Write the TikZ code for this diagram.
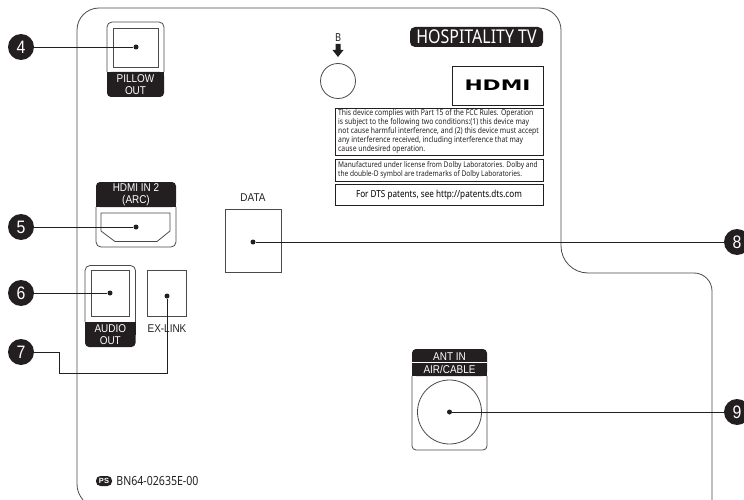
\documentclass[tikz,border=0pt]{standalone}
\usepackage{fontspec}
\usetikzlibrary{positioning}
\setmainfont{Liberation Sans}
\newfontfamily\finefont[FakeStretch=0.84]{Noto Sans}
\newfontfamily\labelfont[FakeStretch=0.88]{Liberation Sans}
\newfontfamily\logofont[FakeStretch=1.5]{DejaVu Sans}
\definecolor{inkdark}{HTML}{231F20}
\definecolor{linegrey}{HTML}{4A4A4A}
\tikzset{
  callout/.style={circle,fill=inkdark,text=white,minimum size=26pt,inner sep=0pt,font=\labelfont\fontsize{18}{18}\selectfont},
  portdot/.style={circle,fill=inkdark,inner sep=0pt,minimum size=5pt},
  leader/.style={draw=inkdark,line width=0.9pt},
  outline/.style={draw=linegrey,line width=0.8pt},
  whitelabel/.style={text=white,align=center,inner sep=0pt,font=\labelfont\fontsize{11.3}{11.8}\selectfont},
  blacklabel/.style={text=inkdark,align=center,inner sep=0pt,font=\labelfont\fontsize{11.3}{11.8}\selectfont},
  noticetext/.style={text=inkdark,align=left,inner sep=0pt,font=\finefont\fontsize{8.1}{9}\selectfont},
  noticebox/.style={draw=inkdark,line width=0.8pt}
}
\begin{document}
\begin{tikzpicture}[x=1pt,y=-1pt]
  \clip (0,0) rectangle (744,500);
  % back panel outline
  \draw[outline] (83,500) .. controls (79,495) and (77,490) .. (77,484);
  \draw[outline,rounded corners=22pt] (77,484) -- (77,8) -- (561,8)
    [rounded corners=27pt] -- (561,273)
    [rounded corners=18pt] -- (712,273) -- (712,500);

  % PILLOW OUT
  \fill[inkdark,rounded corners=4pt] (107,72) rectangle (164,97);
  \fill[inkdark] (107,72) rectangle (164,85);
  \draw[outline,rounded corners=5pt] (107,72) -- (107,22) -- (164,22) -- (164,72);
  \draw[outline] (113,28) rectangle (158,67);
  \node[whitelabel] (pillowlabel) at (135.5,85) {PILLOW\\OUT};

  % HDMI IN 2
  \fill[inkdark,rounded corners=4pt] (96,182) rectangle (176,207);
  \fill[inkdark] (96,195) rectangle (176,207);
  \draw[outline,rounded corners=5pt] (96,207) -- (96,247) -- (176,247) -- (176,207);
  \draw[outline] (101,213) -- (170,213) -- (170,231) -- (157,241.5) -- (115,241.5) -- (101,231) -- cycle;
  \node[whitelabel] (hdmilabel) at (136,195) {HDMI IN 2\\(ARC)};

  % AUDIO OUT, EX-LINK
  \fill[inkdark,rounded corners=4pt] (85,322) rectangle (135.5,347);
  \fill[inkdark] (85,322) rectangle (135.5,335);
  \draw[outline,rounded corners=5pt] (85,322) -- (85,265.5) -- (135.5,265.5) -- (135.5,322);
  \draw[outline] (91,270) rectangle (129.5,316);
  \node[whitelabel] (audiolabel) at (110.3,335) {AUDIO\\OUT};
  \draw[outline] (147.5,270) rectangle (186.5,316);
  \node[blacklabel] (exlinklabel) at (167,329) {EX-LINK};

  % DATA
  \draw[outline] (225,209) rectangle (281,272);
  \node[blacklabel] (datalabel) at (253,198) {DATA};

  % ANT IN
  \fill[inkdark,rounded corners=4pt] (412,349) rectangle (487,376);
  \fill[inkdark] (412,362) rectangle (487,376);
  \draw[white,line width=0.6pt] (412,362.5) -- (487,362.5);
  \draw[outline,rounded corners=4pt] (412,376) -- (412,450) -- (487,450) -- (487,376);
  \draw[outline] (449.5,412) circle (32);
  \node[whitelabel] (antlabel) at (449.5,356.5) {ANT IN};
  \node[whitelabel] (airlabel) at (449.5,369.5) {AIR/CABLE};

  % B hole with its arrow
  \node[blacklabel,font=\finefont\fontsize{11}{11}\selectfont] (blabel) at (338,38) {B};
  \fill[inkdark] (335.5,44) -- (340.5,44) -- (340.5,50) -- (343.5,50) -- (338,57) -- (332.5,50) -- (335.5,50) -- cycle;
  \draw[outline] (338,81) circle (17.5);

  % labels, upper right
  \node[fill=inkdark,text=white,rounded corners=5pt,minimum width=133pt,minimum height=20pt,inner sep=0pt,font=\finefont\fontsize{19}{19}\selectfont] (hospitality) at (476.5,37) {HOSPITALITY TV};
  \node[noticebox,minimum width=91pt,minimum height=39pt,inner sep=0pt,font=\logofont\bfseries\fontsize{14.5}{14.5}\selectfont] (hdmilogo) at (497.5,85.5) {HDMI};
  \node[noticebox,minimum width=208pt,minimum height=47pt,inner sep=0pt] (fccbox) at (439,131.5) {};
  \node[noticetext,anchor=west] (fcctext) at (338,131.5) {This device complies with Part 15 of the FCC Rules. Operation\\is subject to the following two conditions:(1) this device may\\not cause harmful interference, and (2) this device must accept\\any interference received, including interference that may\\cause undesired operation.};
  \node[noticebox,minimum width=208pt,minimum height=22pt,inner sep=0pt] (dolbybox) at (439,170) {};
  \node[noticetext,anchor=west,font=\finefont\fontsize{7.85}{9.3}\selectfont] (dolbytext) at (338,170) {Manufactured under license from Dolby Laboratories. Dolby and\\the double-D symbol are trademarks of Dolby Laboratories.};
  \node[noticebox,minimum width=208pt,minimum height=21pt,inner sep=0pt,font=\finefont\fontsize{9.7}{9.7}\selectfont] (dtsbox) at (439,194.5) {For DTS patents, see http://patents.dts.com};

  % part number
  \node[fill=inkdark,text=white,rounded corners=4.5pt,minimum width=16pt,minimum height=10pt,inner sep=0pt,font=\bfseries\fontsize{7.5}{7.5}\selectfont] (pspill) at (104,481) {PS};
  \node[right=4pt of pspill,inner sep=0pt,text=inkdark,font=\finefont\fontsize{12.6}{12.6}\selectfont] (partno) {BN64-02635E-00};

  % Draw callouts and their port dots
  \foreach \i/\j/\k in {21/47/4, 21/227/5, 21/293/6, 21/352/7, 737/242/8, 737/412/9} {
    \node[callout] (n\k) at (\i,\j) {\k};
  }
  \foreach \i/\j/\k in {136/47/4, 136/227/5, 110/293/6, 167/296/7, 253/242/8, 449.5/412/9} {
    \node[portdot] (d\k) at (\i,\j) {};
  }
  \foreach \k in {4,5,6,8,9} {
    \draw[leader] (n\k) -- (d\k);
  }
  \coordinate (bend7) at (59,373);
  \draw[leader] (d7) |- (bend7) |- (n7);
\end{tikzpicture}
\end{document}
